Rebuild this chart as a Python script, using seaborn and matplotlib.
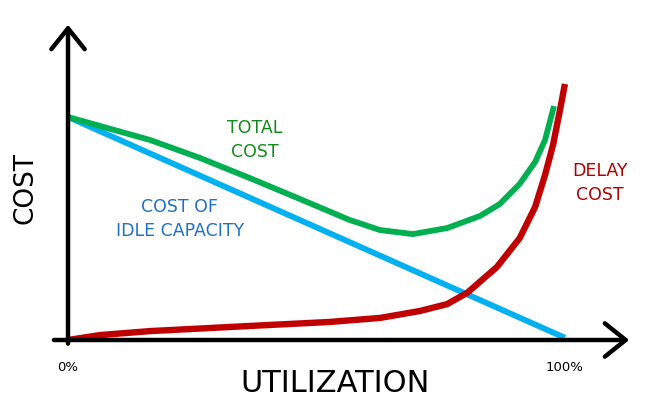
import matplotlib
matplotlib.use('Agg')
import matplotlib.pyplot as plt
import seaborn as sns

# utilization (%) vs cost
util_idle = [0, 100]
cost_idle = [100, 1]

util_total = [0, 6.4, 16.5, 26.6, 36.6, 46.7, 56.7, 62.8, 69.4, 76.3, 82.9, 86.9, 90.9, 94, 96, 97.8]
cost_total = [100, 96, 89.7, 81.6, 72.6, 63.2, 53.8, 49.3, 47.5, 50.2, 55.6, 61, 70, 79.8, 89.7, 104.9]

util_delay = [0, 6.4, 16.5, 36.6, 52.7, 62.8, 70.8, 76.3, 80.3, 86.3, 90.9, 94, 96, 97.6, 99, 100]
cost_delay = [0, 2.2, 4, 6.3, 8.1, 9.9, 13, 16.1, 21.1, 32.7, 45.7, 59.6, 74, 87.4, 103, 114.8]

tick_pos = [0, 100]
tick_labels = ['0%', '100%']

sns.set_style('white')
plt.rcParams['font.family'] = ['DejaVu Sans']
plt.rcParams['text.color'] = 'black'
plt.rcParams['axes.labelcolor'] = 'black'
plt.rcParams['xtick.color'] = 'black'

fig = plt.figure(figsize=(6.49, 4.09), dpi=100)
ax = fig.add_axes([0.1048, 0.1687, 0.869, 0.7775])

sns.lineplot(x=util_idle, y=cost_idle, ax=ax, color='#00b0f0', lw=4.2)
sns.lineplot(x=util_total, y=cost_total, ax=ax, color='#00b050', lw=4.2)
sns.lineplot(x=util_delay, y=cost_delay, ax=ax, color='#c00000', lw=4.6)
for ln in ax.get_lines():
    ln.set_solid_joinstyle('round')
    ln.set_solid_capstyle('butt')

ax.set_xlim(0, 113.5)
ax.set_ylim(0, 142.6)

for s in ax.spines.values():
    s.set_visible(False)

# hand drawn style axes with open arrow heads
ax.annotate('', xy=(1.0, 0.0), xytext=(-0.03, 0.0), xycoords='axes fraction',
            arrowprops=dict(arrowstyle='->,head_length=1.5,head_width=1.2', lw=3.2, color='black'))
ax.annotate('', xy=(0.0, 1.0), xytext=(0.0, -0.02), xycoords='axes fraction',
            arrowprops=dict(arrowstyle='->,head_length=1.5,head_width=1.2', lw=3.2, color='black'))

ax.set_xticks(tick_pos)
ax.set_xticklabels(tick_labels, fontsize=9.5)
ax.tick_params(axis='x', length=0, pad=15)
ax.set_yticks([])

ax.set_xlabel('UTILIZATION', fontsize=22)
ax.xaxis.set_label_coords(0.473, -0.138)
ax.xaxis.label.set_va('center')
ax.set_ylabel('COST', fontsize=19)
ax.yaxis.set_label_coords(-0.076, 0.478)
ax.yaxis.label.set_va('center')

ax.text(37.6, 89.7, 'TOTAL\nCOST', color='#118a1a', fontsize=12.5,
        ha='center', va='center', linespacing=1.45)
ax.text(22.5, 54.3, 'COST OF\nIDLE CAPACITY', color='#1e70c8', fontsize=12.5,
        ha='center', va='center', linespacing=1.45)
ax.text(107, 70.4, 'DELAY\nCOST', color='#b00000', fontsize=12.5,
        ha='center', va='center', linespacing=1.45)

fig.savefig('out.png', dpi=100)
